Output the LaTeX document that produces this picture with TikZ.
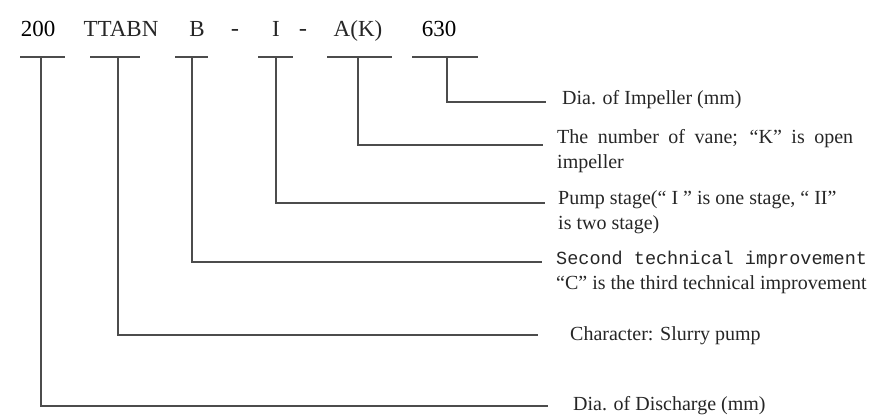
\documentclass[tikz,border=0pt]{standalone}
\usepackage{fontspec}
\setmainfont{Liberation Serif}
\setmonofont{Liberation Mono}
\usetikzlibrary{positioning}
\definecolor{linegray}{gray}{0.3}
\tikzset{
	code/.style={
		font = \fontsize{23}{23}\selectfont,
		inner sep = 0pt,
		anchor = base,
		text = black!85
	},
	bar/.style={
		line width = 1.6pt,
		draw = linegray
	},
	lead/.style={
		line width = 1.4pt,
		draw = linegray
	},
	desc/.style={
		font = \fontsize{20}{25}\selectfont,
		inner sep = 0pt,
		anchor = west,
		align = left,
		text = black!85
	},
}

\begin{document}
\begin{tikzpicture}[x=1pt, y=-1pt]
	\useasboundingbox (0,0) rectangle (872,418);
	% model code
	\node[code, text=black] (c200) at (38,36.5) {200};
	\node[code] (cTT) at (121,36.5) {TTABN};
	\node[code] (cB) at (197,36.5) {B};
	\node[code] (dash1) at (235,36.5) {\texttt{-}};
	\node[code] (cI) at (276,36.5) {I};
	\node[code] (dash2) at (303,36.5) {\texttt{-}};
	\node[code] (cA) at (358,36.5) {A(K)};
	\node[code, text=black] (c630) at (439,36.5) {630};
	% underlines
	\foreach \n/\l/\r/\s in {200/20/65/41, TT/90/140/118, B/175/208/192, I/258/293/276, A/327/392/358, 630/412/478/447}{
		\draw[bar] (\l,57) -- (\r,57);
		\coordinate (s\n) at (\s,57);
	}
	% leader ends
	\coordinate (e630) at (546,102);
	\coordinate (eA) at (543,145);
	\coordinate (eI) at (545,203);
	\coordinate (eB) at (542,262);
	\coordinate (eTT) at (538,335);
	\coordinate (e200) at (548,406);
	\foreach \n in {200,TT,B,I,A,630}{
		\draw[lead] (s\n) |- (e\n);
	}
	% meanings
	\node[desc] (d630) at (562,100) {Dia. of Impeller (mm)};
	\node[desc] (dA) at (557,151.5) {\makebox[296pt][s]{The number of vane; “K” is open}\\impeller};
	\node[desc] (dI) at (558,212) {Pump stage(“ I ” is one stage, “ II”\\is two stage)};
	\node[desc] (dB) at (556,272.5) {{\ttfamily\fontsize{18.5}{25}\selectfont Second technical improvement}\\“C” is the third technical improvement};
	\node[desc] (dTT) at (570,336) {Character: Slurry pump};
	\node[desc] (d200) at (573,406) {Dia. of Discharge (mm)};
\end{tikzpicture}
\end{document}
